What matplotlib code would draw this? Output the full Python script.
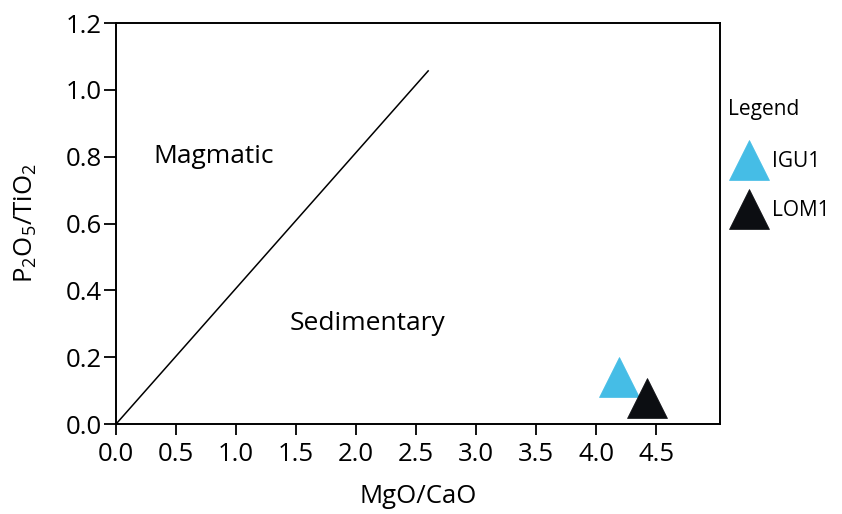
import matplotlib
matplotlib.use("Agg")
import matplotlib.pyplot as plt

# samples (MgO/CaO, P2O5/TiO2)
samples = ["IGU1", "LOM1"]
mgo_cao = [4.19, 4.42]
p2o5_tio2 = [0.142, 0.079]
colors = ["#45bde6", "#0c0e12"]

# discrimination line magmatic / sedimentary
line_x = [0.0, 2.6]
line_y = [0.0, 1.057]

xticks = [0.0, 0.5, 1.0, 1.5, 2.0, 2.5, 3.0, 3.5, 4.0, 4.5]
yticks = [0.0, 0.2, 0.4, 0.6, 0.8, 1.0, 1.2]

plt.rcParams['font.family'] = ['Open Sans', 'DejaVu Sans']

fig = plt.figure(figsize=(8.42, 5.14), dpi=100)
ax = fig.add_axes([0.1378, 0.175, 0.7172, 0.78])

ax.plot(line_x, line_y, color="black", lw=1.1)

for name, x, y, c in zip(samples, mgo_cao, p2o5_tio2, colors):
    ax.plot(x, y, marker="^", ms=29, color=c, mec=c, mew=0.5,
            linestyle="none", label=name)

ax.text(0.31, 0.80, "Magmatic", fontsize=19, va="center", ha="left")
ax.text(1.45, 0.30, "Sedimentary", fontsize=19, va="center", ha="left")

ax.set_xlim(0, 5.03)
ax.set_ylim(0, 1.2)
ax.set_xticks(xticks)
ax.set_xticklabels([f"{t:.1f}" for t in xticks])
ax.set_yticks(yticks)
ax.set_yticklabels([f"{t:.1f}" for t in yticks])
ax.tick_params(axis="both", labelsize=18.5, width=1.3, direction="out")
ax.tick_params(axis="y", length=9, pad=1)
ax.tick_params(axis="x", length=8, pad=5)
for s in ax.spines.values():
    s.set_linewidth(1.4)

ax.set_xlabel("MgO/CaO", fontsize=18.5, labelpad=12)
ax.set_ylabel(r"$\mathregular{P_2O_5/TiO_2}$", fontsize=18.5, labelpad=19)

leg = ax.legend(title="Legend", loc="upper left", bbox_to_anchor=(1.013, 0.81),
                frameon=False, fontsize=15, title_fontsize=15, markerscale=0.97,
                handletextpad=0.1, labelspacing=1.35, borderaxespad=0.0,
                borderpad=0.0)
leg._legend_box.align = "left"
leg._legend_box.sep = 22

fig.savefig("out.png", dpi=100)
